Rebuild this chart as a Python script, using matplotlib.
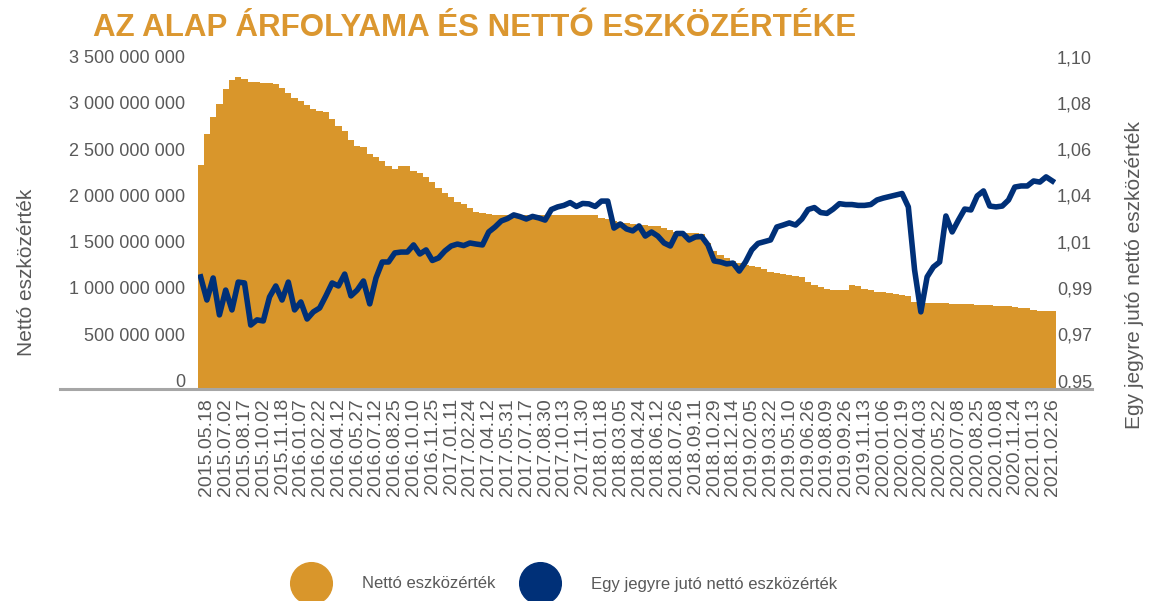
import matplotlib
matplotlib.use("Agg")
import matplotlib.pyplot as plt
import matplotlib.transforms as mtrans
from matplotlib.lines import Line2D
import numpy as np

plt.rcParams['font.family'] = ['Liberation Sans', 'DejaVu Sans']

# tick labels (every third data point, first at index 1)
dates = ['2015.05.18', '2015.07.02', '2015.08.17', '2015.10.02', '2015.11.18',
         '2016.01.07', '2016.02.22', '2016.04.12', '2016.05.27', '2016.07.12',
         '2016.08.25', '2016.10.10', '2016.11.25', '2017.01.11', '2017.02.24',
         '2017.04.12', '2017.05.31', '2017.07.17', '2017.08.30', '2017.10.13',
         '2017.11.30', '2018.01.18', '2018.03.05', '2018.04.24', '2018.06.12',
         '2018.07.26', '2018.09.11', '2018.10.29', '2018.12.14', '2019.02.05',
         '2019.03.22', '2019.05.10', '2019.06.26', '2019.08.09', '2019.09.26',
         '2019.11.13', '2020.01.06', '2020.02.19', '2020.04.03', '2020.05.22',
         '2020.07.08', '2020.08.25', '2020.10.08', '2020.11.24', '2021.01.13',
         '2021.02.26']

# nettó eszközérték, millió Ft
nav_m = [2420, 2754, 2938, 3078, 3240, 3337, 3370, 3348, 3316, 3316,
         3305, 3305, 3294, 3251, 3197, 3143, 3110, 3067, 3024, 3002,
         2992, 2916, 2840, 2786, 2689, 2624, 2614, 2538, 2506, 2462,
         2408, 2376, 2408, 2408, 2354, 2333, 2290, 2236, 2171, 2117,
         2074, 2020, 1998, 1955, 1912, 1901, 1890, 1879, 1879, 1879,
         1879, 1879, 1879, 1879, 1879, 1879, 1879, 1879, 1879, 1879,
         1879, 1879, 1879, 1879, 1847, 1836, 1814, 1804, 1793, 1787,
         1771, 1771, 1760, 1760, 1739, 1717, 1696, 1690, 1685, 1685,
         1674, 1577, 1490, 1447, 1415, 1382, 1361, 1339, 1328, 1318,
         1296, 1264, 1253, 1242, 1231, 1220, 1210, 1156, 1123, 1102,
         1085, 1069, 1069, 1069, 1123, 1112, 1080, 1069, 1053, 1048,
         1037, 1026, 1015, 1004, 940, 929, 929, 929, 929, 929,
         923, 918, 918, 913, 907, 907, 907, 896, 896, 896,
         886, 880, 875, 853, 842, 842, 842]

# egy jegyre jutó nettó eszközérték
price = [1.0019, 0.9912, 1.0014, 0.9843, 0.9958, 0.9866, 0.9995, 0.9991, 0.9796, 0.9820,
         0.9815, 0.9926, 0.9977, 0.9912, 0.9995, 0.9866, 0.9903, 0.9824, 0.9857, 0.9875,
         0.9931, 0.9991, 0.9977, 1.0032, 0.9931, 0.9958, 1.0000, 0.9894, 1.0014, 1.0088,
         1.0088, 1.0130, 1.0134, 1.0134, 1.0167, 1.0125, 1.0144, 1.0095, 1.0107, 1.0139,
         1.0162, 1.0171, 1.0164, 1.0176, 1.0171, 1.0167, 1.0227, 1.0250, 1.0278, 1.0289,
         1.0306, 1.0298, 1.0287, 1.0299, 1.0292, 1.0282, 1.0331, 1.0343, 1.0350, 1.0363,
         1.0345, 1.0359, 1.0357, 1.0345, 1.0370, 1.0370, 1.0245, 1.0264, 1.0241, 1.0232,
         1.0255, 1.0208, 1.0227, 1.0208, 1.0176, 1.0162, 1.0220, 1.0220, 1.0190, 1.0204,
         1.0206, 1.0167, 1.0093, 1.0088, 1.0079, 1.0083, 1.0046, 1.0088, 1.0144, 1.0174,
         1.0182, 1.0190, 1.0250, 1.0259, 1.0269, 1.0259, 1.0287, 1.0331, 1.0340, 1.0317,
         1.0313, 1.0333, 1.0358, 1.0354, 1.0354, 1.0350, 1.0350, 1.0354, 1.0375, 1.0384,
         1.0391, 1.0398, 1.0405, 1.0343, 1.0051, 0.9857, 1.0019, 1.0065, 1.0088, 1.0301,
         1.0227, 1.0282, 1.0333, 1.0329, 1.0394, 1.0417, 1.0347, 1.0343, 1.0347, 1.0375,
         1.0435, 1.0440, 1.0440, 1.0463, 1.0458, 1.0482, 1.0463]

ORANGE = '#D9962B'
BLUE = '#003078'
GREY = '#595959'

nav = np.array(nav_m) * 1e6
x = np.arange(len(nav))

fig = plt.figure(figsize=(11.49, 6.01), dpi=100)
ax = fig.add_axes([197.5 / 1149, 1 - 389 / 601, 858 / 1149, 324 / 601])
ax.bar(x, nav, width=1.0, color=ORANGE, linewidth=0)
ax.set_xlim(-0.5, len(nav) - 0.5)
ax.set_ylim(0, 3.5e9)

ax2 = ax.twinx()
ax2.plot(x, price, color=BLUE, lw=4.0)
ax2.set_ylim(0.95, 1.10)

for a in (ax, ax2):
    for s in a.spines.values():
        s.set_visible(False)

# left axis
lticks = np.arange(0, 3.5e9 + 1, 5e8)
ax.set_yticks(lticks)
ax.set_yticklabels([f"{int(v):,}".replace(',', ' ') for v in lticks])
ax.tick_params(axis='y', length=0, pad=9, labelsize=13, labelcolor=GREY)

# right axis
rticks = np.linspace(0.95, 1.10, 8)
ax2.set_yticks(rticks)
ax2.set_yticklabels([f"{v:.2f}".replace('.', ',') for v in rticks])
ax2.tick_params(axis='y', length=0, pad=1, labelsize=13, labelcolor=GREY)

shift = mtrans.ScaledTranslation(0, 2 / 100, fig.dpi_scale_trans)
for lab in ax.get_yticklabels() + ax2.get_yticklabels():
    lab.set_va('baseline')
    lab.set_transform(lab.get_transform() + shift)

# x axis
ax.set_xticks(np.arange(len(dates)) * 3 + 1)
ax.set_xticklabels(dates, rotation=90)
ax.tick_params(axis='x', length=0, pad=6.5, labelsize=14, labelcolor=GREY)

# baseline
fig.add_artist(Line2D([60 / 1149, 1092 / 1149], [1 - 389 / 601, 1 - 389 / 601],
                      transform=fig.transFigure, color='#A6A6A6', lw=2.2))

# axis titles
fig.text(27 / 1149, 1 - 272 / 601, 'Nettó eszközérték', rotation=90,
         ha='center', va='center', fontsize=15, color=GREY)
fig.text(1134 / 1149, 1 - 275 / 601, 'Egy jegyre jutó nettó eszközérték', rotation=90,
         ha='center', va='center', fontsize=15, color=GREY)

# title
fig.text(93 / 1149, 1 - 36 / 601, 'AZ ALAP ÁRFOLYAMA ÉS NETTÓ ESZKÖZÉRTÉKE',
         ha='left', va='baseline', fontsize=22.5, fontweight='bold', color='#DB9730')

# legend
handles = [Line2D([], [], ls='', marker='o', ms=30, color=ORANGE, mec=ORANGE),
           Line2D([], [], ls='', marker='o', ms=30, color=BLUE, mec=BLUE)]
fig.legend(handles, ['Nettó eszközérték', 'Egy jegyre jutó nettó eszközérték'],
           loc='center left', bbox_to_anchor=(298.5 / 1149, 1 - 584 / 601),
           ncol=2, frameon=False, fontsize=12, handlelength=1.5,
           handletextpad=2.3, columnspacing=1.95, borderpad=0, borderaxespad=0,
           labelcolor=GREY)

fig.savefig('out.png', dpi=100)
